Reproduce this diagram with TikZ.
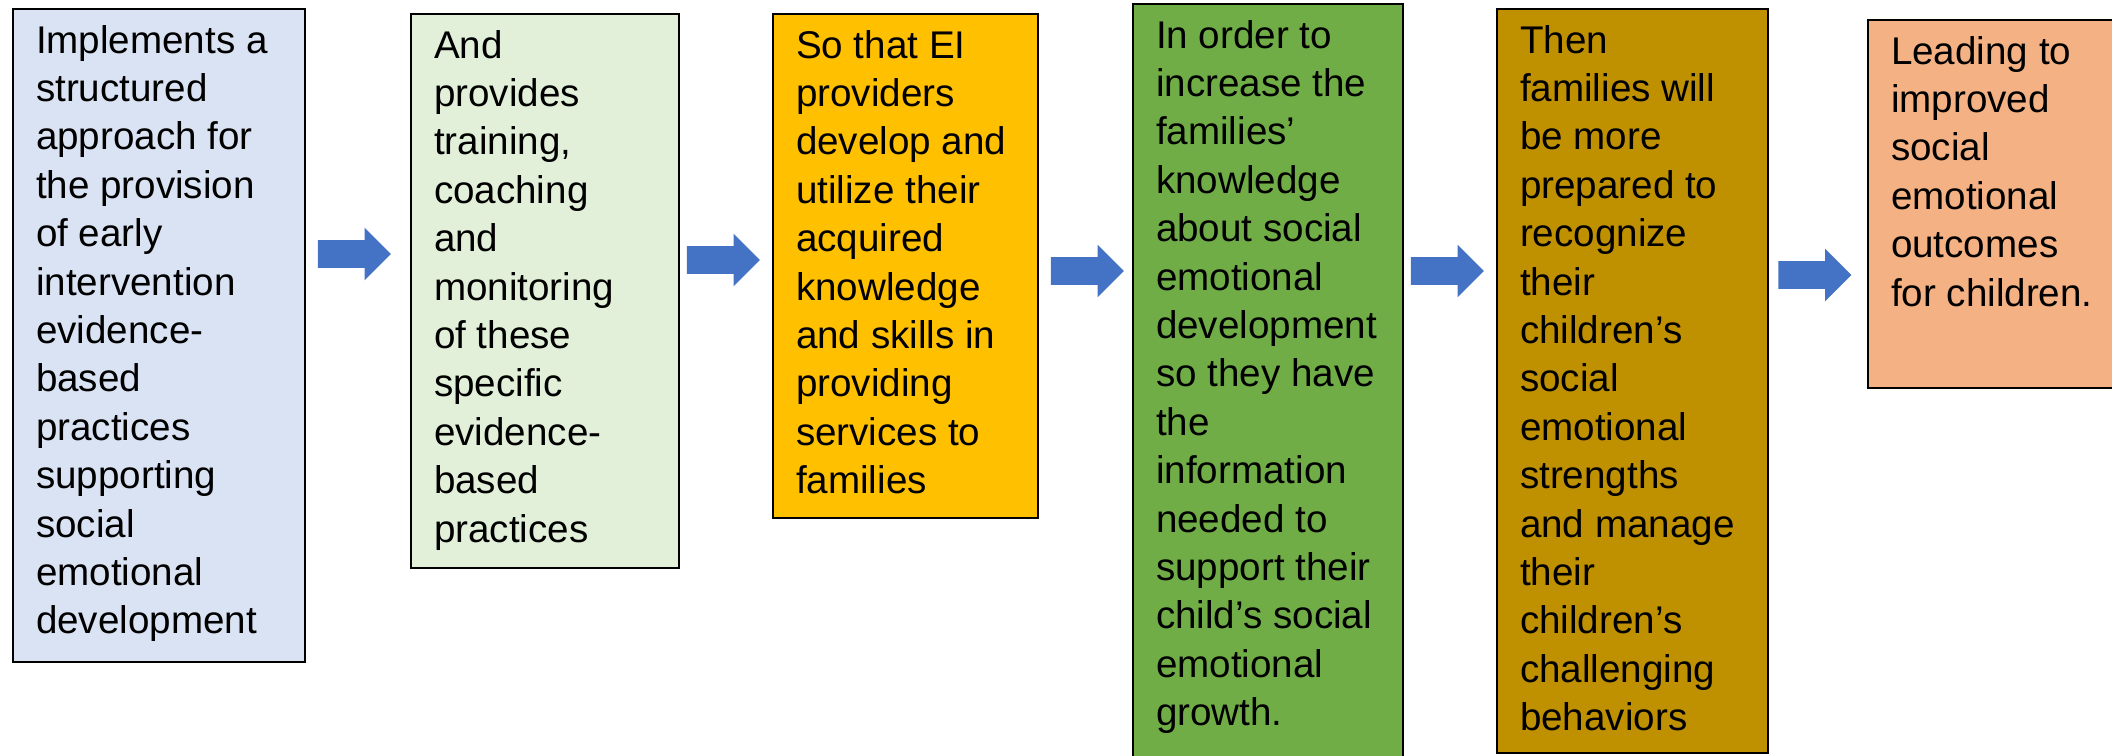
\documentclass[tikz,border=0pt]{standalone}
\usepackage{fontspec}
\setmainfont{Liberation Sans}
\usetikzlibrary{shapes.arrows}

\definecolor{stageblue}{HTML}{DAE3F3}
\definecolor{stagegreen}{HTML}{E2F0D9}
\definecolor{stagegold}{HTML}{FFC000}
\definecolor{stagegrass}{HTML}{70AD47}
\definecolor{stageochre}{HTML}{BF9000}
\definecolor{stagepeach}{HTML}{F4B183}
\definecolor{flowblue}{HTML}{4472C4}

% text block of a stage: width, height, lines
\newcommand{\stagetext}[3]{\parbox[t][#2][t]{#1}{\raggedright\fontsize{19.3}{24.2}\selectfont\rule{0pt}{22pt}#3}}

\tikzset{
  stage/.style={draw, line width=1pt, inner xsep=11.5pt, inner ysep=0pt, anchor=north west},
  flow/.style={single arrow, fill=flowblue, draw=none, inner xsep=0pt, inner ysep=6.75pt,
    minimum height=36.5pt, minimum width=26pt,
    single arrow head extend=6.25pt, single arrow tip angle=90}
}

\begin{document}
\begin{tikzpicture}[x=0.5pt, y=-0.5pt]
\useasboundingbox (0,0) rectangle (2112,755);

\node[stage, fill=stageblue] (s1) at (12,8) {\stagetext{123pt}{326.5pt}{Implements a\\ structured\\ approach for\\ the provision\\ of early\\ intervention\\ evidence-\\ based\\ practices\\ supporting\\ social\\ emotional\\ development}};
\node[stage, fill=stagegreen] (s2) at (410,13) {\stagetext{111pt}{277pt}{And\\ provides\\ training,\\ coaching\\ and\\ monitoring\\ of these\\ specific\\ evidence-\\ based\\ practices}};
\node[stage, fill=stagegold] (s3) at (772,13) {\stagetext{109.5pt}{252pt}{So that EI\\ providers\\ develop and\\ utilize their\\ acquired\\ knowledge\\ and skills in\\ providing\\ services to\\ families}};
\node[stage, fill=stagegrass] (s4) at (1132,3) {\stagetext{112pt}{380pt}{In order to\\ increase the\\ families’\\ knowledge\\ about social\\ emotional\\ development\\ so they have\\ the\\ information\\ needed to\\ support their\\ child’s social\\ emotional\\ growth.}};
\node[stage, fill=stageochre] (s5) at (1496,8) {\stagetext{112.5pt}{372pt}{Then\\ families will\\ be more\\ prepared to\\ recognize\\ their\\ children’s\\ social\\ emotional\\ strengths\\ and manage\\ their\\ children’s\\ challenging\\ behaviors}};
\node[stage, fill=stagepeach] (s6) at (1867,19) {\stagetext{103pt}{184pt}{Leading to\\ improved\\ social\\ emotional\\ outcomes\\ for children.}};

\node[flow] (a1) at (347.5,254) {};
\node[flow] (a2) at (716.5,260) {};
\node[flow] (a3) at (1080.5,271) {};
\node[flow] (a4) at (1440.5,271) {};
\node[flow] (a5) at (1808,275) {};

\end{tikzpicture}
\end{document}
